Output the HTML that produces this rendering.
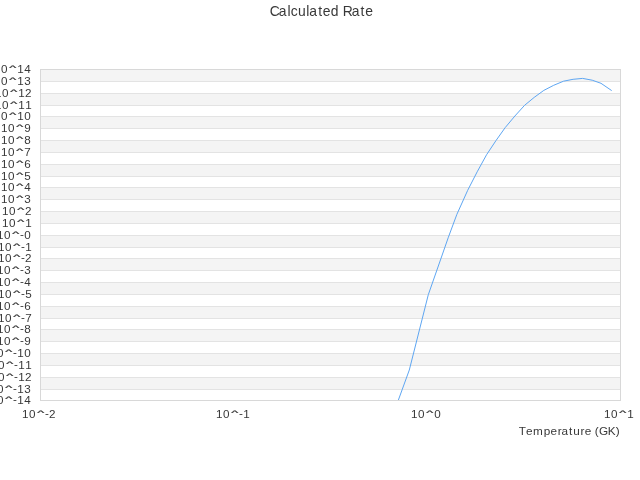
<!DOCTYPE html>
<html><head><meta charset="utf-8"><title>Calculated Rate</title>
<style>
html,body{margin:0;padding:0;background:#fff;width:640px;height:480px;overflow:hidden}
svg{display:block;will-change:transform}
text{font-family:"Liberation Sans",sans-serif;fill:#383838}
</style></head><body>
<svg width="640" height="480" viewBox="0 0 640 480">
<rect x="0" y="0" width="640" height="480" fill="#ffffff"/>
<g shape-rendering="crispEdges">
<rect x="40" y="69" width="581" height="12" fill="#f4f4f4"/>
<rect x="40" y="93" width="581" height="12" fill="#f4f4f4"/>
<rect x="40" y="116" width="581" height="12" fill="#f4f4f4"/>
<rect x="40" y="140" width="581" height="12" fill="#f4f4f4"/>
<rect x="40" y="164" width="581" height="12" fill="#f4f4f4"/>
<rect x="40" y="187" width="581" height="12" fill="#f4f4f4"/>
<rect x="40" y="211" width="581" height="12" fill="#f4f4f4"/>
<rect x="40" y="235" width="581" height="12" fill="#f4f4f4"/>
<rect x="40" y="258" width="581" height="12" fill="#f4f4f4"/>
<rect x="40" y="282" width="581" height="12" fill="#f4f4f4"/>
<rect x="40" y="306" width="581" height="12" fill="#f4f4f4"/>
<rect x="40" y="329" width="581" height="12" fill="#f4f4f4"/>
<rect x="40" y="353" width="581" height="12" fill="#f4f4f4"/>
<rect x="40" y="377" width="581" height="12" fill="#f4f4f4"/>
<rect x="40" y="81" width="581" height="1" fill="#e3e3e3"/>
<rect x="40" y="93" width="581" height="1" fill="#e3e3e3"/>
<rect x="40" y="105" width="581" height="1" fill="#e3e3e3"/>
<rect x="40" y="116" width="581" height="1" fill="#e3e3e3"/>
<rect x="40" y="128" width="581" height="1" fill="#e3e3e3"/>
<rect x="40" y="140" width="581" height="1" fill="#e3e3e3"/>
<rect x="40" y="152" width="581" height="1" fill="#e3e3e3"/>
<rect x="40" y="164" width="581" height="1" fill="#e3e3e3"/>
<rect x="40" y="176" width="581" height="1" fill="#e3e3e3"/>
<rect x="40" y="187" width="581" height="1" fill="#e3e3e3"/>
<rect x="40" y="199" width="581" height="1" fill="#e3e3e3"/>
<rect x="40" y="211" width="581" height="1" fill="#e3e3e3"/>
<rect x="40" y="223" width="581" height="1" fill="#e3e3e3"/>
<rect x="40" y="235" width="581" height="1" fill="#e3e3e3"/>
<rect x="40" y="247" width="581" height="1" fill="#e3e3e3"/>
<rect x="40" y="258" width="581" height="1" fill="#e3e3e3"/>
<rect x="40" y="270" width="581" height="1" fill="#e3e3e3"/>
<rect x="40" y="282" width="581" height="1" fill="#e3e3e3"/>
<rect x="40" y="294" width="581" height="1" fill="#e3e3e3"/>
<rect x="40" y="306" width="581" height="1" fill="#e3e3e3"/>
<rect x="40" y="318" width="581" height="1" fill="#e3e3e3"/>
<rect x="40" y="329" width="581" height="1" fill="#e3e3e3"/>
<rect x="40" y="341" width="581" height="1" fill="#e3e3e3"/>
<rect x="40" y="353" width="581" height="1" fill="#e3e3e3"/>
<rect x="40" y="365" width="581" height="1" fill="#e3e3e3"/>
<rect x="40" y="377" width="581" height="1" fill="#e3e3e3"/>
<rect x="40" y="389" width="581" height="1" fill="#e3e3e3"/>
<rect x="40" y="69" width="581" height="1" fill="#d8d8d8"/>
<rect x="40" y="400" width="581" height="1" fill="#d8d8d8"/>
<rect x="40" y="69" width="1" height="332" fill="#d8d8d8"/>
<rect x="620" y="69" width="1" height="332" fill="#d8d8d8"/>
</g>
<polyline fill="none" stroke="#5ea6f2" stroke-width="1" stroke-linejoin="round" points="398.4,400 409.3,370 428.3,294.7 448.4,237.2 456.9,214.3 467.7,190.3 477.2,171.8 486.6,154.7 495.9,140.7 505.2,127.6 514.9,116.0 524.6,105.3 534.2,97.4 543.8,90.4 553.7,85.3 563.5,81.2 573.1,79.3 582.6,78.4 592.2,80.2 601,83.3 611.7,90.6"/>
<g><text font-size="11.66" x="-6.06 1.00" y="72.75">10</text><text font-size="11.66" transform="matrix(1.285,0,0,0.607,9.24,69.90)" stroke="#383838" stroke-width="0.35">^</text><text font-size="11.66" x="17.16 24.22" y="72.75">14</text></g>
<g><text font-size="11.66" x="-6.06 1.00" y="84.75">10</text><text font-size="11.66" transform="matrix(1.285,0,0,0.607,9.24,81.90)" stroke="#383838" stroke-width="0.35">^</text><text font-size="11.66" x="17.16 24.23" y="84.75">13</text></g>
<g><text font-size="11.66" x="-5.06 2.00" y="96.75">10</text><text font-size="11.66" transform="matrix(1.285,0,0,0.607,10.24,93.90)" stroke="#383838" stroke-width="0.35">^</text><text font-size="11.66" x="18.16 25.07" y="96.75">12</text></g>
<g><text font-size="11.66" x="-5.06 2.00" y="108.75">10</text><text font-size="11.66" transform="matrix(1.285,0,0,0.607,10.24,105.90)" stroke="#383838" stroke-width="0.35">^</text><text font-size="11.66" x="18.16 25.16" y="108.75">11</text></g>
<g><text font-size="11.66" x="-6.06 1.00" y="119.75">10</text><text font-size="11.66" transform="matrix(1.285,0,0,0.607,9.24,116.90)" stroke="#383838" stroke-width="0.35">^</text><text font-size="11.66" x="17.16 24.22" y="119.75">10</text></g>
<g><text font-size="11.66" x="0.94 8.00" y="131.75">10</text><text font-size="11.66" transform="matrix(1.285,0,0,0.607,16.24,128.90)" stroke="#383838" stroke-width="0.35">^</text><text font-size="11.66" x="24.18" y="131.75">9</text></g>
<g><text font-size="11.66" x="0.94 8.00" y="143.75">10</text><text font-size="11.66" transform="matrix(1.285,0,0,0.607,16.24,140.90)" stroke="#383838" stroke-width="0.35">^</text><text font-size="11.66" x="24.22" y="143.75">8</text></g>
<g><text font-size="11.66" x="0.94 8.00" y="155.75">10</text><text font-size="11.66" transform="matrix(1.285,0,0,0.607,16.24,152.90)" stroke="#383838" stroke-width="0.35">^</text><text font-size="11.66" x="24.20" y="155.75">7</text></g>
<g><text font-size="11.66" x="0.94 8.00" y="167.75">10</text><text font-size="11.66" transform="matrix(1.285,0,0,0.607,16.24,164.90)" stroke="#383838" stroke-width="0.35">^</text><text font-size="11.66" x="24.22" y="167.75">6</text></g>
<g><text font-size="11.66" x="0.94 8.00" y="179.75">10</text><text font-size="11.66" transform="matrix(1.285,0,0,0.607,16.24,176.90)" stroke="#383838" stroke-width="0.35">^</text><text font-size="11.66" x="24.18" y="179.75">5</text></g>
<g><text font-size="11.66" x="0.94 8.00" y="190.75">10</text><text font-size="11.66" transform="matrix(1.285,0,0,0.607,16.24,187.90)" stroke="#383838" stroke-width="0.35">^</text><text font-size="11.66" x="24.22" y="190.75">4</text></g>
<g><text font-size="11.66" x="0.94 8.00" y="202.75">10</text><text font-size="11.66" transform="matrix(1.285,0,0,0.607,16.24,199.90)" stroke="#383838" stroke-width="0.35">^</text><text font-size="11.66" x="24.23" y="202.75">3</text></g>
<g><text font-size="11.66" x="1.94 9.00" y="214.75">10</text><text font-size="11.66" transform="matrix(1.285,0,0,0.607,17.24,211.90)" stroke="#383838" stroke-width="0.35">^</text><text font-size="11.66" x="25.07" y="214.75">2</text></g>
<g><text font-size="11.66" x="1.94 9.00" y="226.75">10</text><text font-size="11.66" transform="matrix(1.285,0,0,0.607,17.24,223.90)" stroke="#383838" stroke-width="0.35">^</text><text font-size="11.66" x="25.16" y="226.75">1</text></g>
<g><text font-size="11.66" x="-3.06 4.00" y="238.75">10</text><text font-size="11.66" transform="matrix(1.285,0,0,0.607,12.24,235.90)" stroke="#383838" stroke-width="0.35">^</text><text font-size="11.66" x="20.01 24.19" y="238.25 238.75">-0</text></g>
<g><text font-size="11.66" x="-2.06 5.00" y="250.75">10</text><text font-size="11.66" transform="matrix(1.285,0,0,0.607,13.24,247.90)" stroke="#383838" stroke-width="0.35">^</text><text font-size="11.66" x="21.01 25.13" y="250.25 250.75">-1</text></g>
<g><text font-size="11.66" x="-2.06 5.00" y="261.75">10</text><text font-size="11.66" transform="matrix(1.285,0,0,0.607,13.24,258.90)" stroke="#383838" stroke-width="0.35">^</text><text font-size="11.66" x="21.01 25.04" y="261.25 261.75">-2</text></g>
<g><text font-size="11.66" x="-3.06 4.00" y="273.75">10</text><text font-size="11.66" transform="matrix(1.285,0,0,0.607,12.24,270.90)" stroke="#383838" stroke-width="0.35">^</text><text font-size="11.66" x="20.01 24.20" y="273.25 273.75">-3</text></g>
<g><text font-size="11.66" x="-3.06 4.00" y="285.75">10</text><text font-size="11.66" transform="matrix(1.285,0,0,0.607,12.24,282.90)" stroke="#383838" stroke-width="0.35">^</text><text font-size="11.66" x="20.01 24.19" y="285.25 285.75">-4</text></g>
<g><text font-size="11.66" x="-2.06 5.00" y="297.75">10</text><text font-size="11.66" transform="matrix(1.285,0,0,0.607,13.24,294.90)" stroke="#383838" stroke-width="0.35">^</text><text font-size="11.66" x="21.01 25.14" y="297.25 297.75">-5</text></g>
<g><text font-size="11.66" x="-3.06 4.00" y="309.75">10</text><text font-size="11.66" transform="matrix(1.285,0,0,0.607,12.24,306.90)" stroke="#383838" stroke-width="0.35">^</text><text font-size="11.66" x="20.01 24.19" y="309.25 309.75">-6</text></g>
<g><text font-size="11.66" x="-2.06 5.00" y="321.75">10</text><text font-size="11.66" transform="matrix(1.285,0,0,0.607,13.24,318.90)" stroke="#383838" stroke-width="0.35">^</text><text font-size="11.66" x="21.01 25.17" y="321.25 321.75">-7</text></g>
<g><text font-size="11.66" x="-3.06 4.00" y="332.75">10</text><text font-size="11.66" transform="matrix(1.285,0,0,0.607,12.24,329.90)" stroke="#383838" stroke-width="0.35">^</text><text font-size="11.66" x="20.01 24.19" y="332.25 332.75">-8</text></g>
<g><text font-size="11.66" x="-3.06 4.00" y="344.75">10</text><text font-size="11.66" transform="matrix(1.285,0,0,0.607,12.24,341.90)" stroke="#383838" stroke-width="0.35">^</text><text font-size="11.66" x="20.01 24.15" y="344.25 344.75">-9</text></g>
<g><text font-size="11.66" x="-10.06 -3.00" y="356.75">10</text><text font-size="11.66" transform="matrix(1.285,0,0,0.607,5.24,353.90)" stroke="#383838" stroke-width="0.35">^</text><text font-size="11.66" x="13.01 17.13 24.19" y="356.25 356.75 356.75">-10</text></g>
<g><text font-size="11.66" x="-9.06 -2.00" y="368.75">10</text><text font-size="11.66" transform="matrix(1.285,0,0,0.607,6.24,365.90)" stroke="#383838" stroke-width="0.35">^</text><text font-size="11.66" x="14.01 18.13 25.13" y="368.25 368.75 368.75">-11</text></g>
<g><text font-size="11.66" x="-9.06 -2.00" y="380.75">10</text><text font-size="11.66" transform="matrix(1.285,0,0,0.607,6.24,377.90)" stroke="#383838" stroke-width="0.35">^</text><text font-size="11.66" x="14.01 18.13 25.04" y="380.25 380.75 380.75">-12</text></g>
<g><text font-size="11.66" x="-10.06 -3.00" y="392.75">10</text><text font-size="11.66" transform="matrix(1.285,0,0,0.607,5.24,389.90)" stroke="#383838" stroke-width="0.35">^</text><text font-size="11.66" x="13.01 17.13 24.20" y="392.25 392.75 392.75">-13</text></g>
<g><text font-size="11.66" x="-10.06 -3.00" y="403.75">10</text><text font-size="11.66" transform="matrix(1.285,0,0,0.607,5.24,400.90)" stroke="#383838" stroke-width="0.35">^</text><text font-size="11.66" x="13.01 17.13 24.19" y="403.25 403.75 403.75">-14</text></g>
<g><text font-size="11.66" x="21.94 29.00" y="417.8">10</text><text font-size="11.66" transform="matrix(1.285,0,0,0.607,37.24,414.95)" stroke="#383838" stroke-width="0.35">^</text><text font-size="11.66" x="45.01 49.04" y="417.30 417.80">-2</text></g>
<g><text font-size="11.66" x="215.94 223.00" y="417.8">10</text><text font-size="11.66" transform="matrix(1.285,0,0,0.607,231.24,414.95)" stroke="#383838" stroke-width="0.35">^</text><text font-size="11.66" x="239.01 243.13" y="417.30 417.80">-1</text></g>
<g><text font-size="11.66" x="410.94 418.00" y="417.8">10</text><text font-size="11.66" transform="matrix(1.285,0,0,0.607,426.24,414.95)" stroke="#383838" stroke-width="0.35">^</text><text font-size="11.66" x="434.22" y="417.8">0</text></g>
<g><text font-size="11.66" x="603.94 611.00" y="417.8">10</text><text font-size="11.66" transform="matrix(1.285,0,0,0.607,619.24,414.95)" stroke="#383838" stroke-width="0.35">^</text><text font-size="11.66" x="627.16" y="417.8">1</text></g>
<g><text font-size="11.75" x="518.74 525.89 533.09 543.68 550.58 557.77 561.51 569.11 573.18 580.52 584.72 591.38 594.82 598.97 607.81 615.63" y="434.8">Temperature (GK)</text></g>
<g><text font-size="13.9" x="269.63 278.85 287.43 290.71 298.11 306.36 309.31 318.21 322.86 330.85 338.90 342.70 351.63 360.53 365.18" y="15.9">Calculated Rate</text></g>
</svg>
</body></html>
